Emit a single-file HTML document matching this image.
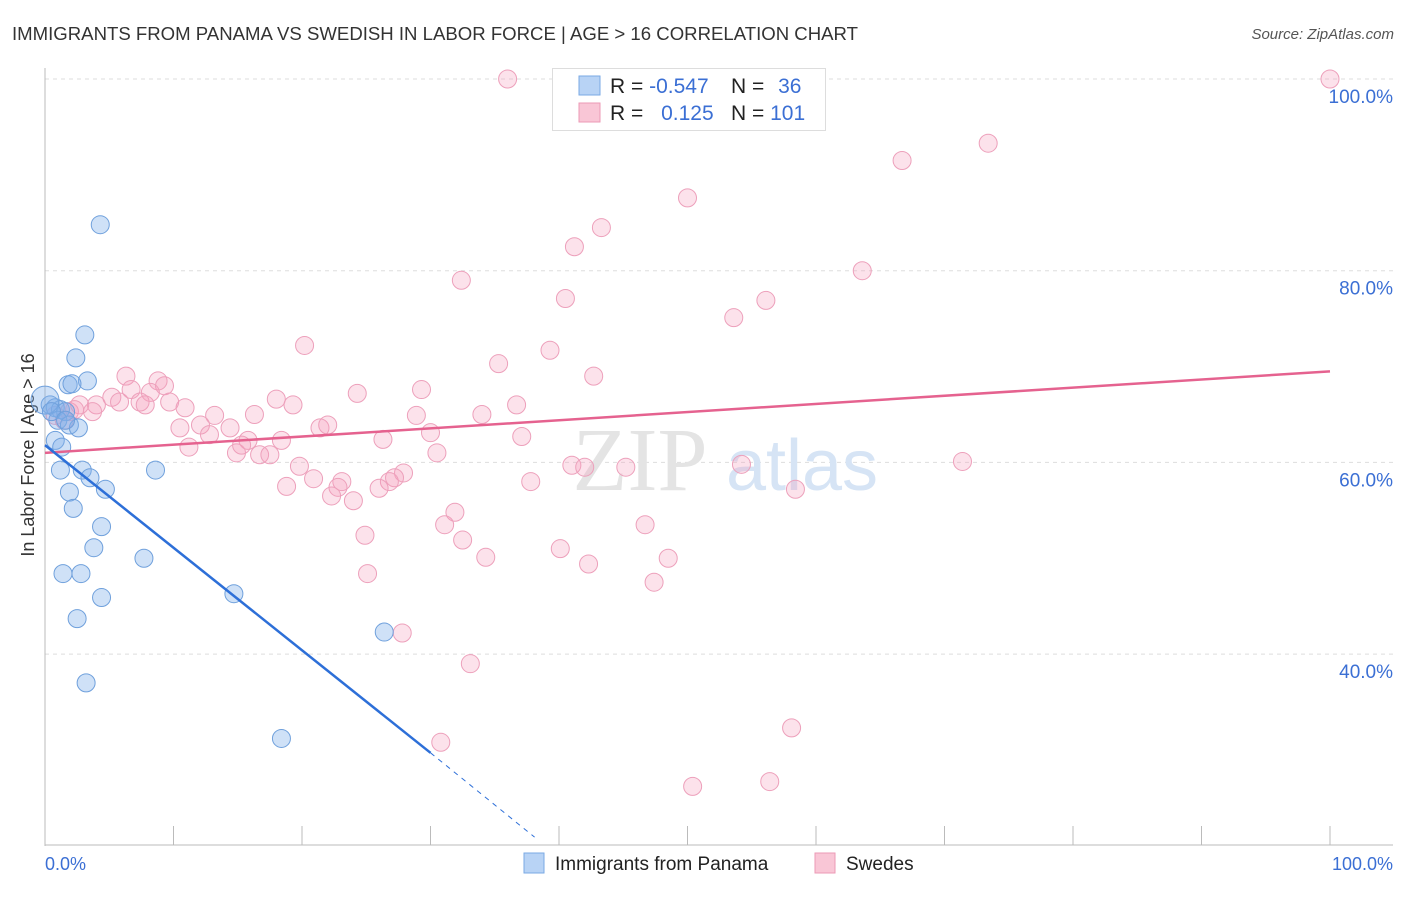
<!DOCTYPE html>
<html><head><meta charset="utf-8"><style>
body{margin:0;background:#fff;font-family:"Liberation Sans",sans-serif}
</style></head><body>
<svg id="chart" width="1406" height="892" xmlns="http://www.w3.org/2000/svg">
<text x="12" y="40" font-size="18.5" fill="#333" textLength="846" lengthAdjust="spacingAndGlyphs">IMMIGRANTS FROM PANAMA VS SWEDISH IN LABOR FORCE | AGE &gt; 16 CORRELATION CHART</text>
<text x="1394" y="39" font-size="15" fill="#555" font-style="italic" text-anchor="end">Source: ZipAtlas.com</text>
<text x="0" y="0" transform="translate(34,455) rotate(-90)" font-size="18" fill="#333" text-anchor="middle">In Labor Force | Age &gt; 16</text>
<g id="grid"></g>
<text x="640" y="490" font-size="90" fill="#e4e4e4" font-family="Liberation Serif,serif" text-anchor="middle">ZIP</text>
<text x="802" y="490" font-size="72" fill="#d6e4f5" text-anchor="middle">atlas</text>
<g id="marks"></g>
<g>
<rect x="552.5" y="68.5" width="273" height="62" fill="#fff" stroke="#ddd"/>
<rect x="579" y="76" width="21" height="19" fill="#b8d3f5" stroke="#7aa9e4"/>
<rect x="579" y="103" width="21" height="19" fill="#f9c6d6" stroke="#ec9ab6"/>
<text x="610" y="93" font-size="21" fill="#222">R = <tspan fill="#3b6fd4">-0.547</tspan></text>
<text x="731" y="93" font-size="21" fill="#222">N = <tspan fill="#3b6fd4" dx="8">36</tspan></text>
<text x="610" y="120" font-size="21" fill="#222">R = <tspan fill="#3b6fd4" dx="12">0.125</tspan></text>
<text x="731" y="120" font-size="21" fill="#222">N = <tspan fill="#3b6fd4">101</tspan></text>
</g>
<text x="45" y="870" font-size="18" fill="#3b6fd4">0.0%</text>
<text x="1393" y="870" font-size="18" fill="#3b6fd4" text-anchor="end">100.0%</text>
<g>
<rect x="524" y="853" width="20" height="20" fill="#b8d3f5" stroke="#7aa9e4"/>
<text x="555" y="870" font-size="19" fill="#222">Immigrants from Panama</text></g>
<g>
<rect x="815" y="853" width="20" height="20" fill="#f9c6d6" stroke="#ec9ab6"/>
<text x="846" y="870" font-size="19" fill="#222">Swedes</text></g>
</svg>
<script>
const yTicks=[100,80,60,40];
const yTickLabels=["100.0%","80.0%","60.0%","40.0%"];
const xTicks=[0,10,20,30,40,50,60,70,80,90,100];
const panamaX=[4.3,3.1,2.4,3.3,1.8,2.1,0.4,0.8,1.2,1.6,1.0,1.9,2.6,0.8,1.3,1.2,2.9,3.5,8.6,1.9,4.7,2.2,4.4,3.8,7.7,1.4,2.8,4.4,14.7,2.5,3.2,18.4,26.4,0,0.5,1.6];
const panamaY=[84.8,73.3,70.9,68.5,68.1,68.2,66.0,65.7,65.5,65.3,64.4,63.9,63.6,62.3,61.6,59.2,59.2,58.4,59.2,56.9,57.2,55.2,53.3,51.1,50.0,48.4,48.4,45.9,46.3,43.7,37.0,31.2,42.3,66.5,65.3,64.4];
const swedesX=[36.0,100,73.4,66.7,50.0,43.3,41.2,32.4,63.6,40.5,56.1,53.6,20.2,39.3,35.3,42.7,6.3,8.8,9.3,6.7,8.2,24.3,29.3,18.0,19.3,36.7,5.2,2.7,4.0,5.8,7.4,9.7,7.8,10.9,13.2,16.3,28.9,34.0,3.7,1.9,2.3,12.1,14.4,10.5,12.8,15.8,18.4,21.4,22.0,26.3,30.0,37.1,11.2,14.9,15.3,16.7,17.5,30.5,19.8,27.9,27.2,26.8,20.9,18.8,23.1,22.8,22.3,24.0,26.0,41.0,42.0,45.2,54.2,71.4,37.8,58.4,31.9,31.1,46.7,32.5,24.9,40.1,34.3,48.5,42.3,25.1,47.4,27.8,33.1,58.1,30.8,50.4,56.4,1.5,0.8];
const swedesY=[100,100,93.3,91.5,87.6,84.5,82.5,79.0,80.0,77.1,76.9,75.1,72.2,71.7,70.3,69.0,69.0,68.5,68.0,67.6,67.3,67.2,67.6,66.6,66.0,66.0,66.8,66.0,66.0,66.3,66.3,66.3,66.0,65.7,64.9,65.0,64.9,65.0,65.3,65.3,65.5,63.9,63.6,63.6,62.9,62.3,62.3,63.6,63.9,62.4,63.1,62.7,61.6,61.0,61.8,60.8,60.8,61.0,59.6,58.9,58.4,58.0,58.3,57.5,58.0,57.4,56.5,56.0,57.3,59.7,59.5,59.5,59.8,60.1,58.0,57.2,54.8,53.5,53.5,51.9,52.4,51.0,50.1,50.0,49.4,48.4,47.5,42.2,39.0,32.3,30.8,26.2,26.7,64.4,64.9];
const panamaTrend=[0,61.8,30.0,29.7,38.1,20.9];
const swedesTrend=[0,61.0,100,69.5];
const NS="http://www.w3.org/2000/svg";
const sx=v=>45+v*12.85;
const sy=v=>79+(100-v)*9.585;
function mk(t,a,p){const e=document.createElementNS(NS,t);for(const k in a)e.setAttribute(k,a[k]);p.appendChild(e);return e;}
const grid=document.getElementById('grid'),marks=document.getElementById('marks');
yTicks.forEach((t,i)=>{
 const l=mk('line',{x1:45,x2:1393,y1:sy(t),y2:sy(t),stroke:'#ddd','stroke-dasharray':'4,4'},grid);
 
 
 const tx=mk('text',{x:1393,y:sy(t)+24,'font-size':19,fill:'#3b6fd4','text-anchor':'end'},grid);
 tx.textContent=yTickLabels[i];
 
 
});
const ax=mk('line',{x1:45,x2:45,y1:68,y2:846,stroke:'#bbb'},grid);


const bx=mk('line',{x1:45,x2:1393,y1:845,y2:845,stroke:'#bbb'},grid);


xTicks.forEach(t=>{
 const l=mk('line',{x1:sx(t),x2:sx(t),y1:826,y2:845,stroke:'#bbb'},grid);
 
 
});
swedesX.forEach((x,i)=>{
 const c=mk('circle',{cx:sx(x),cy:sy(swedesY[i]),r:9,fill:'rgba(244,160,190,0.3)',stroke:'#eda0bb','stroke-width':1},marks);
 
 
});
panamaX.forEach((x,i)=>{
 const c=mk('circle',{cx:sx(x),cy:sy(panamaY[i]),r:i==33?14:9,fill:'rgba(130,175,235,0.38)',stroke:'#6fa0dc','stroke-width':1},marks);
 
 
});
const pl=mk('line',{x1:sx(swedesTrend[0]),y1:sy(swedesTrend[1]),x2:sx(swedesTrend[2]),y2:sy(swedesTrend[3]),stroke:'#e5628f','stroke-width':2.5},marks);


const bl=mk('line',{x1:sx(panamaTrend[0]),y1:sy(panamaTrend[1]),x2:sx(panamaTrend[2]),y2:sy(panamaTrend[3]),stroke:'#2d6fd8','stroke-width':2.5},marks);


const bd=mk('line',{x1:sx(panamaTrend[2]),y1:sy(panamaTrend[3]),x2:sx(panamaTrend[4]),y2:sy(panamaTrend[5]),stroke:'#2d6fd8','stroke-width':1,'stroke-dasharray':'5,5'},marks);


</script>
</body></html>
